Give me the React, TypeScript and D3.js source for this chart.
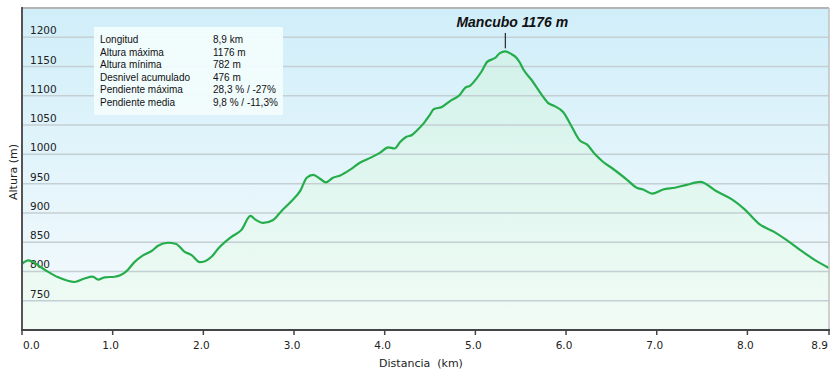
import * as d3 from "d3";

// perfil de altura
const distances = [
  0.0, 0.07, 0.12, 0.25, 0.4, 0.58, 0.69, 0.78, 0.84, 0.91, 1.02, 1.15, 1.24,
  1.33, 1.44, 1.5, 1.61, 1.7, 1.79, 1.87, 1.96, 2.01, 2.09, 2.17, 2.31, 2.42,
  2.52, 2.57, 2.66, 2.77, 2.86, 2.97, 3.07, 3.14, 3.21, 3.29, 3.35, 3.43, 3.51,
  3.62, 3.73, 3.84, 3.95, 4.04, 4.11, 4.17, 4.24, 4.3, 4.35, 4.43, 4.5, 4.54,
  4.63, 4.72, 4.83, 4.89, 4.94, 5.01, 5.07, 5.13, 5.22, 5.27, 5.33, 5.4, 5.44,
  5.49, 5.53, 5.62, 5.73, 5.8, 5.88, 5.97, 6.06, 6.15, 6.23, 6.32, 6.41, 6.52,
  6.67, 6.78, 6.85, 6.95, 7.07, 7.2, 7.33, 7.48, 7.66, 7.83, 7.97, 8.14, 8.29,
  8.43, 8.58, 8.75, 8.9,
];
const elevations = [
  813, 819, 816, 803, 790, 782, 788, 791, 786, 790, 791, 800, 816, 827, 836,
  844, 849, 847, 834, 828, 816, 817, 825, 840, 859, 871, 895, 889, 883, 888,
  903, 920, 938, 960, 965, 958, 952, 960, 964, 974, 986, 994, 1003, 1012, 1010,
  1021, 1030, 1033, 1040, 1053, 1068, 1077, 1081, 1091, 1102, 1114, 1117, 1129,
  1142, 1158, 1165, 1173, 1176, 1171, 1167, 1157, 1145, 1127, 1102, 1088, 1082,
  1072, 1048, 1024, 1017, 1000, 987, 975, 957, 943, 940, 933, 940, 943, 948,
  953, 937, 923, 906, 880, 868, 854, 837, 819, 806,
];

const yTicks = [750, 800, 850, 900, 950, 1000, 1050, 1100, 1150, 1200];
const xTicks = [0, 1, 2, 3, 4, 5, 6, 7, 8, 8.9];

const infoLabels = [
  "Longitud",
  "Altura máxima",
  "Altura mínima",
  "Desnivel acumulado",
  "Pendiente máxima",
  "Pendiente media",
];
const infoValues = [
  "8,9 km",
  "1176 m",
  "782 m",
  "476 m",
  "28,3 % / -27%",
  "9,8 % / -11,3%",
];

const peakName = "Mancubo";
const peakKm = 5.33;
const peakElev = 1176;

const W = 834;
const H = 375;
const left = 22;
const right = 829;
const top = 8;
const bottom = 330;

export default function App() {
  const x = d3.scaleLinear().domain([0, 8.9]).range([left, right]);
  const y = d3.scaleLinear().domain([700, 1250]).range([bottom, top]);

  const pts = distances.map((d, i) => [d, elevations[i]] as [number, number]);

  const area = d3
    .area<[number, number]>()
    .x((d) => x(d[0]))
    .y0(bottom)
    .y1((d) => y(d[1]))
    .curve(d3.curveMonotoneX);

  const line = d3
    .line<[number, number]>()
    .x((d) => x(d[0]))
    .y((d) => y(d[1]))
    .curve(d3.curveMonotoneX);

  const font = "'DejaVu Sans', Verdana, sans-serif";
  const boxFont = "'Liberation Sans', Arial, sans-serif";

  return (
    <svg
      width={W}
      height={H}
      style={{ position: "absolute", left: 0, top: 0, background: "#fff" }}
    >
      <defs>
        <linearGradient id="bg" x1="0" y1="0" x2="0" y2="1">
          <stop offset="0%" stopColor="#d0eef9" />
          <stop offset="100%" stopColor="#f6fbfd" />
        </linearGradient>
        <linearGradient
          id="fill"
          gradientUnits="userSpaceOnUse"
          x1="0"
          y1={top}
          x2="0"
          y2={bottom}
        >
          <stop offset="0%" stopColor="#cdf0e8" />
          <stop offset="100%" stopColor="#f1fcf5" />
        </linearGradient>
      </defs>

      <rect
        x={left}
        y={top}
        width={right - left}
        height={bottom - top}
        fill="url(#bg)"
      />
      <path d={area(pts) || ""} fill="url(#fill)" />

      {yTicks.map((t) => (
        <g key={t}>
          <line
            x1={left}
            x2={right}
            y1={y(t)}
            y2={y(t)}
            stroke="#c4cfd3"
            strokeWidth={1.5}
          />
          <text
            x={30}
            y={y(t) - 3}
            fontSize={10.5}
            fontFamily={font}
            fill="#222"
          >
            {t}
          </text>
        </g>
      ))}

      <path
        d={line(pts) || ""}
        fill="none"
        stroke="#25ad4c"
        strokeWidth={2.2}
        strokeLinejoin="round"
      />

      {/* marco */}
      <line x1={left} x2={right} y1={top} y2={top} stroke="#b4b4b4" strokeWidth={2} />
      <line x1={right} x2={right} y1={top} y2={bottom} stroke="#c0c0c0" strokeWidth={1.5} />
      <line x1={left} x2={left} y1={top - 1} y2={bottom} stroke="#555" strokeWidth={2} />
      <line x1={left - 1} x2={right + 1} y1={bottom} y2={bottom} stroke="#444" strokeWidth={2} />

      {xTicks.map((t, i) => (
        <g key={t}>
          <line
            x1={x(t)}
            x2={x(t)}
            y1={bottom}
            y2={bottom + 5}
            stroke="#444"
            strokeWidth={1.5}
          />
          <text
            x={i === 0 ? x(t) + 1 : i === xTicks.length - 1 ? x(t) - 1 : x(t) - 2}
            y={349}
            fontSize={10.5}
            fontFamily={font}
            fill="#222"
            textAnchor={
              i === 0 ? "start" : i === xTicks.length - 1 ? "end" : "middle"
            }
          >
            {t.toFixed(1)}
          </text>
        </g>
      ))}

      <text
        x={421}
        y={367}
        fontSize={11}
        fontFamily={font}
        fill="#222"
        textAnchor="middle"
        style={{ whiteSpace: "pre" }}
      >
        {"Distancia  (km)"}
      </text>
      <text
        transform="translate(17,172) rotate(-90)"
        fontSize={11}
        fontFamily={font}
        fill="#222"
        textAnchor="middle"
      >
        Altura (m)
      </text>

      {/* cuadro de datos */}
      <rect x={94} y={27} width={189} height={88} fill="#f2fcfd" opacity={0.95} />
      {infoLabels.map((l, i) => (
        <g key={l}>
          <text x={100} y={43 + i * 12.6} fontSize={10} fontFamily={boxFont} fill="#111">
            {l}
          </text>
          <text x={213} y={43 + i * 12.6} fontSize={10} fontFamily={boxFont} fill="#111">
            {infoValues[i]}
          </text>
        </g>
      ))}

      {/* cumbre */}
      <line
        x1={x(peakKm)}
        x2={x(peakKm)}
        y1={33}
        y2={y(peakElev) - 3}
        stroke="#000"
        strokeWidth={1}
      />
      <text
        x={x(peakKm) + 7}
        y={27}
        fontSize={14}
        fontWeight="bold"
        fontStyle="italic"
        fontFamily={boxFont}
        fill="#111"
        textAnchor="middle"
      >
        {`${peakName} ${peakElev} m`}
      </text>
    </svg>
  );
}
